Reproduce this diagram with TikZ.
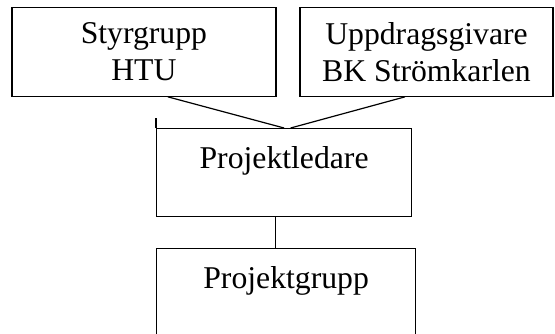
\documentclass[tikz,border=0pt]{standalone}
\usepackage{fontspec}
\setmainfont{Liberation Serif}
\begin{document}
\begin{tikzpicture}[x=1pt,y=-1pt,
  every node/.style={font=\fontsize{31.7}{37}\selectfont},
  box/.style={draw, line width=1.2pt, inner sep=0pt, align=center},
  conn/.style={line width=1.2pt}]
\useasboundingbox (0,0) rectangle (555,333);
\clip (0,0) rectangle (555,333);
\node[box, minimum width=264pt, minimum height=88.5pt] (b1) at (143.9,52) {Styrgrupp\\HTU};
\node[box, minimum width=253pt, minimum height=88.5pt] (b2) at (426.5,52) {Uppdragsgivare\\BK Strömkarlen};
\node[box, anchor=north west, minimum width=255pt, text height=40pt, text depth=48pt] (pl) at (156,128) {Projektledare};
\node[box, anchor=north west, minimum width=259pt, text height=40pt, text depth=60pt] (pg) at (156,248) {Projektgrupp};
\coordinate (s1) at ([xshift=24pt]b1.south);
\coordinate (s2) at ([xshift=-21.5pt]b2.south);
\coordinate (e2) at ([xshift=6.5pt]pl.north);
\coordinate (tk) at ([yshift=10pt]pl.north west);
\draw[conn] (s1) -- (pl.north);
\draw[conn] (s2) -- (e2);
\draw[conn] (pl.north west) -- (tk);
\draw[conn] (pl.south -| 275.7,0) -- (pg.north -| 275.7,0);
\end{tikzpicture}
\end{document}
